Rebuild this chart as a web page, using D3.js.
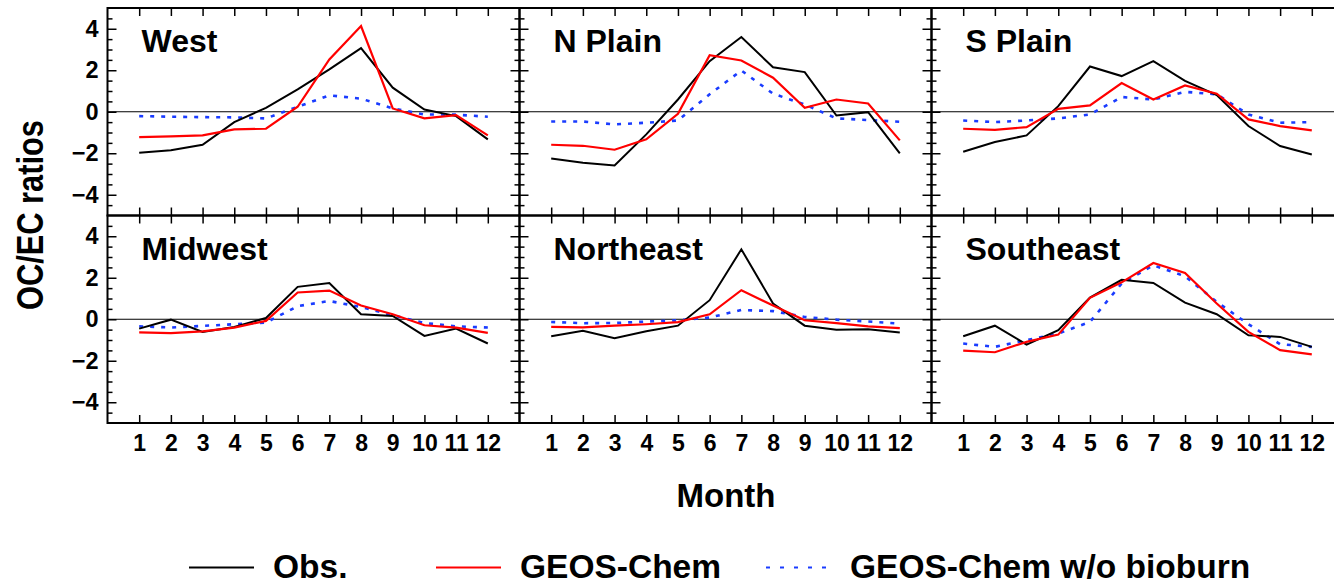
<!DOCTYPE html>
<html lang="en">
<head>
<meta charset="UTF-8">
<title>OC/EC ratios by region</title>
<script src="https://d3js.org/d3.v7.min.js"></script>
<style>
  body { margin: 0; background: #fff; }
  svg text { font-family: "Liberation Sans", Arial, Helvetica, sans-serif; font-weight: bold; fill: #000; }
</style>
</head>
<body>
<svg width="1334" height="584"></svg>
<script>
var months = [1, 2, 3, 4, 5, 6, 7, 8, 9, 10, 11, 12];
var regions = ["West", "N Plain", "S Plain", "Midwest", "Northeast", "Southeast"];
var seriesNames = ["Obs.", "GEOS-Chem", "GEOS-Chem w/o bioburn"];
var yTicks = [-4, -2, 0, 2, 4];

// values, Jan..Dec
var westObs  = [-1.98, -1.85, -1.59, -0.50, 0.19, 1.08, 2.04, 3.07, 1.16, 0.11, -0.21, -1.33];
var westGC   = [-1.22, -1.19, -1.14, -0.85, -0.82, 0.24, 2.52, 4.13, 0.16, -0.32, -0.16, -1.14];
var westNoBB = [-0.21, -0.24, -0.26, -0.27, -0.32, 0.24, 0.79, 0.63, 0.16, -0.13, -0.14, -0.24];

var nPlainObs  = [-2.25, -2.46, -2.59, -1.09, 0.59, 2.44, 3.60, 2.14, 1.91, -0.18, -0.02, -2.01];
var nPlainGC   = [-1.59, -1.64, -1.83, -1.33, -0.10, 2.73, 2.47, 1.64, 0.19, 0.59, 0.40, -1.38];
var nPlainNoBB = [-0.47, -0.47, -0.61, -0.53, -0.42, 0.84, 1.99, 0.87, 0.35, -0.32, -0.40, -0.48];

var sPlainObs  = [-1.93, -1.46, -1.14, 0.27, 2.18, 1.72, 2.44, 1.49, 0.80, -0.69, -1.65, -2.06];
var sPlainGC   = [-0.82, -0.87, -0.74, 0.14, 0.31, 1.38, 0.59, 1.27, 0.87, -0.37, -0.69, -0.90];
var sPlainNoBB = [-0.42, -0.50, -0.42, -0.32, -0.13, 0.71, 0.59, 0.96, 0.84, -0.13, -0.53, -0.50];

var midwestObs  = [-0.45, -0.02, -0.61, -0.37, 0.06, 1.56, 1.75, 0.24, 0.16, -0.80, -0.45, -1.17];
var midwestGC   = [-0.63, -0.67, -0.58, -0.40, -0.08, 1.29, 1.38, 0.66, 0.24, -0.29, -0.40, -0.66];
var midwestNoBB = [-0.34, -0.40, -0.32, -0.24, -0.16, 0.63, 0.88, 0.59, 0.19, -0.18, -0.34, -0.40];

var northeastObs  = [-0.82, -0.55, -0.92, -0.58, -0.31, 0.92, 3.37, 0.76, -0.31, -0.51, -0.48, -0.64];
var northeastGC   = [-0.37, -0.39, -0.31, -0.24, -0.14, 0.24, 1.40, 0.66, -0.05, -0.19, -0.34, -0.43];
var northeastNoBB = [-0.13, -0.19, -0.18, -0.11, -0.05, 0.08, 0.45, 0.39, 0.11, -0.02, -0.11, -0.21];

var southeastObs  = [-0.82, -0.31, -1.22, -0.53, 1.04, 1.90, 1.75, 0.80, 0.24, -0.77, -0.85, -1.33];
var southeastGC   = [-1.51, -1.59, -1.09, -0.74, 1.03, 1.78, 2.71, 2.23, 0.76, -0.61, -1.49, -1.69];
var southeastNoBB = [-1.17, -1.33, -1.01, -0.69, -0.13, 1.72, 2.60, 2.07, 0.84, -0.24, -1.20, -1.33];

var obsSeries  = [westObs, nPlainObs, sPlainObs, midwestObs, northeastObs, southeastObs];
var gcSeries   = [westGC, nPlainGC, sPlainGC, midwestGC, northeastGC, southeastGC];
var noBBSeries = [westNoBB, nPlainNoBB, sPlainNoBB, midwestNoBB, northeastNoBB, southeastNoBB];

var svg = d3.select("svg"),
    plotLeft = 107.5, plotTop = 8,
    pw = 412, ph = 207.5;

var x = d3.scaleLinear().domain([0, 13]).range([0, pw]),
    y = d3.scaleLinear().domain([-5, 5]).range([ph, 0]);

var minorTicks = d3.range(-4.5, 5, 0.5).filter(function(v) { return v % 2 !== 0; });

var styles = [
  {color: "#000", width: 2, dash: null},
  {color: "#ff0000", width: 2.2, dash: null},
  {color: "#1a3cff", width: 2.6, dash: "4,7"}
];

var line = d3.line()
    .x(function(d, j) { return x(months[j]); })
    .y(function(d) { return y(d); });

function cleanAxis(g) {
  g.select(".domain").remove();
  g.selectAll(".tick line").attr("stroke", "#000").attr("stroke-width", 1.5);
}

regions.forEach(function(name, i) {
  var col = i % 3, row = Math.floor(i / 3);
  var g = svg.append("g")
      .attr("transform", "translate(" + (plotLeft + col * pw) + "," + (plotTop + row * ph) + ")");

  // inward ticks on all four sides
  g.append("g").call(d3.axisBottom(x).tickValues(months).tickSize(8).tickFormat("")).call(cleanAxis);
  g.append("g").attr("transform", "translate(0," + ph + ")")
    .call(d3.axisTop(x).tickValues(months).tickSize(8).tickFormat("")).call(cleanAxis);
  g.append("g").call(d3.axisRight(y).tickValues(yTicks).tickSize(9).tickFormat("")).call(cleanAxis);
  g.append("g").call(d3.axisRight(y).tickValues(minorTicks).tickSize(5).tickFormat("")).call(cleanAxis);
  g.append("g").attr("transform", "translate(" + pw + ",0)")
    .call(d3.axisLeft(y).tickValues(yTicks).tickSize(9).tickFormat("")).call(cleanAxis);
  g.append("g").attr("transform", "translate(" + pw + ",0)")
    .call(d3.axisLeft(y).tickValues(minorTicks).tickSize(5).tickFormat("")).call(cleanAxis);

  if (col === 0) {
    var ya = g.append("g").call(d3.axisLeft(y).tickValues(yTicks).tickSize(0).tickPadding(9));
    ya.select(".domain").remove();
    ya.selectAll("text").attr("font-size", 23.5).attr("font-family", null);
  }
  if (row === 1) {
    var xa = g.append("g").attr("transform", "translate(0," + ph + ")")
      .call(d3.axisBottom(x).tickValues(months).tickSize(0).tickPadding(12));
    xa.select(".domain").remove();
    xa.selectAll("text").attr("font-size", 23).attr("font-family", null);
  }

  // zero line
  g.append("line")
    .attr("x1", 0).attr("x2", pw)
    .attr("y1", y(0)).attr("y2", y(0))
    .attr("stroke", "#000").attr("stroke-width", 1.2);

  [noBBSeries[i], obsSeries[i], gcSeries[i]].forEach(function(vals, k) {
    var s = styles[[2, 0, 1][k]];
    g.append("path")
      .datum(vals)
      .attr("d", line)
      .attr("fill", "none")
      .attr("stroke", s.color)
      .attr("stroke-width", s.width)
      .attr("stroke-dasharray", s.dash);
  });

  g.append("rect")
    .attr("width", pw).attr("height", ph)
    .attr("fill", "none").attr("stroke", "#000").attr("stroke-width", 2);

  g.append("text")
    .attr("x", 34).attr("y", 44)
    .attr("font-size", 32)
    .text(name);
});

// axis titles
svg.append("text")
  .attr("transform", "translate(43,215) rotate(-90)")
  .attr("text-anchor", "middle")
  .attr("font-size", 36)
  .attr("textLength", 190)
  .attr("lengthAdjust", "spacingAndGlyphs")
  .text("OC/EC ratios");

svg.append("text")
  .attr("x", 726).attr("y", 507)
  .attr("text-anchor", "middle")
  .attr("font-size", 33)
  .text("Month");

// legend
var legendX = [189, 436, 766];
var leg = svg.append("g").selectAll("g")
  .data(seriesNames)
  .join("g")
  .attr("transform", function(d, k) { return "translate(" + legendX[k] + ",0)"; });

leg.append("line")
  .attr("x1", 0).attr("x2", function(d, k) { return k === 2 ? 60 : 65; })
  .attr("y1", 567.5).attr("y2", 567.5)
  .attr("stroke", function(d, k) { return styles[k].color; })
  .attr("stroke-width", 2)
  .attr("stroke-dasharray", function(d, k) { return k === 2 ? "4,10" : null; });

leg.append("text")
  .attr("x", 84)
  .attr("y", 578)
  .attr("font-size", 33.5)
  .text(function(d) { return d; });
</script>
</body>
</html>
